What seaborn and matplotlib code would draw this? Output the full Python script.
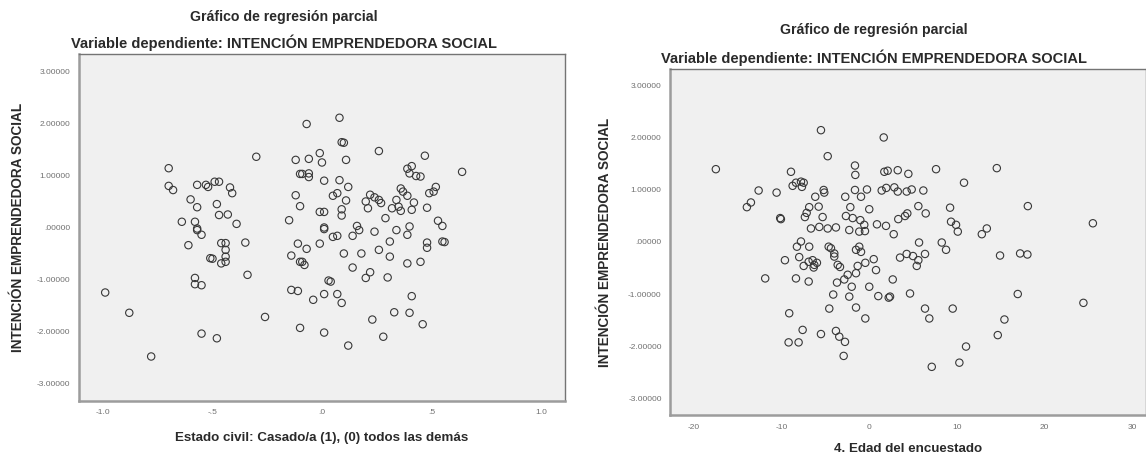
import numpy as np
import pandas as pd
import seaborn as sns
import matplotlib.pyplot as plt

# partial regression: estado civil
civil_x = [-0.30, -0.12, -0.70, -0.10, -0.70, -0.68, -0.57, -0.53, -0.52, -0.49,
           -0.47, -0.42, -0.41, -0.60, -0.57, -0.48, -0.12, -0.10, -0.47, -0.43,
           -0.15, -0.39, -0.64, -0.58, -0.57, -0.57, -0.55, -0.46, -0.44, -0.35,
           -0.61, -0.11, -0.44, -0.51, -0.50, -0.46, -0.44, -0.44, -0.14, -0.10,
           -0.58, -0.58, -0.55, -0.34, -0.99, -0.88, -0.14, -0.11, -0.26, -0.10,
           -0.55, -0.48, -0.78,
           -0.07, 0.08, 0.09, 0.10, 0.26, 0.47, -0.06, -0.01, 0.00, 0.11,
           0.64, 0.39, 0.41, 0.40, 0.43, 0.45, -0.09, -0.06, -0.06, 0.01,
           0.08, 0.12, 0.05, 0.07, 0.11, 0.36, 0.37, 0.39, 0.52, 0.51,
           0.49, 0.22, 0.24, 0.26, 0.27, 0.20, 0.21, 0.34, 0.35, 0.36,
           0.32, 0.42, 0.41, 0.48, -0.01, 0.01, 0.09, 0.09, 0.29, 0.53,
           0.55, 0.01, 0.01, 0.16, 0.17, 0.24, 0.34, 0.40, 0.39, 0.05,
           0.07, 0.14, -0.01, 0.31, 0.48, 0.55, -0.07, 0.10, 0.18, 0.26,
           0.31, 0.48, 0.56, -0.09, -0.08, 0.14, 0.39, 0.45, 0.22, 0.20,
           0.30, 0.03, 0.04, 0.01, -0.04, 0.07, 0.09, 0.41, 0.33, 0.40,
           0.23, 0.46, 0.01, 0.28, 0.12]
civil_y = [1.36, 1.30, 1.14, 1.03, 0.80, 0.72, 0.82, 0.82, 0.78, 0.88,
           0.88, 0.77, 0.66, 0.54, 0.39, 0.45, 0.62, 0.41, 0.24, 0.25,
           0.14, 0.07, 0.11, 0.11, -0.02, -0.05, -0.14, -0.30, -0.30, -0.29,
           -0.34, -0.31, -0.43, -0.59, -0.60, -0.69, -0.66, -0.56, -0.54, -0.66,
           -0.97, -1.09, -1.11, -0.91, -1.25, -1.64, -1.20, -1.22, -1.72, -1.93,
           -2.04, -2.13, -2.48,
           1.99, 2.11, 1.64, 1.63, 1.47, 1.38, 1.32, 1.43, 1.25, 1.30,
           1.07, 1.13, 1.18, 1.04, 0.99, 0.98, 1.03, 1.04, 0.97, 0.90,
           0.91, 0.78, 0.61, 0.66, 0.52, 0.75, 0.69, 0.61, 0.78, 0.69,
           0.66, 0.63, 0.58, 0.53, 0.47, 0.50, 0.37, 0.53, 0.40, 0.32,
           0.37, 0.48, 0.34, 0.38, 0.30, 0.30, 0.35, 0.23, 0.18, 0.13,
           0.03, 0.00, -0.03, 0.03, -0.05, -0.08, -0.05, 0.02, -0.14, -0.18,
           -0.16, -0.16, -0.31, -0.27, -0.29, -0.27, -0.41, -0.50, -0.50, -0.43,
           -0.56, -0.39, -0.28, -0.66, -0.72, -0.77, -0.69, -0.66, -0.86, -0.97,
           -0.96, -1.02, -1.04, -1.28, -1.39, -1.28, -1.45, -1.32, -1.63, -1.64,
           -1.77, -1.86, -2.02, -2.10, -2.27]

# partial regression: edad
edad_x = [-5.48, 1.68, -4.71, -17.47, -8.90, -1.60, -1.56, 1.75, 2.13, 3.28,
          -8.33, -7.76, -7.45, -8.71, -7.65, -12.59, -10.54, -5.17, -5.10, -6.13,
          -2.71, -1.60, -0.91, -0.23, 1.45, 1.97, 2.89, 3.28, -13.47, -13.93,
          -5.74, -6.82, -7.11, -7.31, -5.29, -2.13, -2.63, 0.03, -10.13, -10.05,
          -1.86, -0.99, -6.62, -5.67, -4.71, -3.77, -2.25, -1.11, -0.46, -0.54,
          0.91, 1.94, 2.82, 3.34, -7.76, -8.22, -6.82, -4.60, -4.34, -3.96,
          -1.11, -0.91, -1.48, 7.65, 14.58, 10.84, 4.49, 4.30, 4.87, 6.20,
          18.12, 9.25, 5.63, 6.47, 4.11, 4.37, 9.36, 9.93, 10.13, 12.87,
          13.44, 25.54, 5.71, 8.30, 8.79, 14.95, 17.24, 18.07, 3.54, 4.30,
          5.02, 5.63, 6.39, 5.45, 2.71, 2.40, 4.68, 6.39, 6.88, 9.55,
          16.97, 15.45, 14.69, 11.07, 10.31, 7.16, 24.46, -9.59, -11.84, -7.96,
          -7.45, -6.88, -6.43, -6.24, -6.31, -5.94, -8.33, -6.88, -3.96, -3.57,
          -3.31, -1.29, -0.42, 0.54, 0.80, -3.65, -2.82, -2.43, -1.48, -1.97,
          0.03, -4.08, -2.25, 1.06, 2.25, -4.53, -1.48, -0.42, -9.10, -7.57,
          -5.48, -3.77, -3.39, -2.74, -9.17, -8.03, -2.89]
edad_y = [2.15, 2.01, 1.65, 1.40, 1.35, 1.47, 1.29, 1.35, 1.37, 1.38,
          1.14, 1.16, 1.14, 1.08, 1.06, 0.99, 0.95, 1.00, 0.95, 0.87,
          0.87, 1.00, 0.87, 1.01, 0.99, 1.04, 1.05, 0.97, 0.76, 0.67,
          0.68, 0.67, 0.56, 0.48, 0.48, 0.67, 0.50, 0.63, 0.46, 0.44,
          0.46, 0.42, 0.26, 0.29, 0.26, 0.28, 0.23, 0.20, 0.21, 0.33,
          0.34, 0.31, 0.15, 0.44, 0.01, -0.09, -0.09, -0.09, -0.12, -0.22,
          -0.09, -0.19, -0.15, 1.40, 1.42, 1.14, 1.31, 0.97, 1.01, 0.99,
          0.69, 0.66, 0.69, 0.55, 0.50, 0.55, 0.39, 0.33, 0.20, 0.15,
          0.26, 0.36, -0.01, -0.01, -0.15, -0.26, -0.22, -0.24, -0.30, -0.23,
          -0.27, -0.35, -0.23, -0.46, -0.72, -1.05, -0.99, -1.28, -1.47, -1.28,
          -1.00, -1.49, -1.79, -2.01, -2.32, -2.40, -1.17, -0.35, -0.70, -0.29,
          -0.46, -0.38, -0.35, -0.44, -0.49, -0.40, -0.70, -0.76, -0.28, -0.44,
          -0.48, -0.46, -0.40, -0.33, -0.54, -0.78, -0.72, -0.63, -0.60, -0.86,
          -0.86, -1.01, -1.05, -1.04, -1.07, -1.28, -1.26, -1.47, -1.37, -1.69,
          -1.77, -1.71, -1.82, -1.92, -1.93, -1.93, -2.19]

y_ticks = [3, 2, 1, 0, -1, -2, -3]
y_tick_labels = ['3.00000', '2.00000', '1.00000', '.00000', '-1.00000', '-2.00000', '-3.00000']
civil_ticks = [-1.0, -0.5, 0.0, 0.5, 1.0]
civil_tick_labels = ['-1.0', '-.5', '.0', '.5', '1.0']
edad_ticks = [-20, -10, 0, 10, 20, 30]
edad_tick_labels = ['-20', '-10', '0', '10', '20', '30']

title_1 = 'Gráfico de regresión parcial'
title_2 = 'Variable dependiente: INTENCIÓN EMPRENDEDORA SOCIAL'
y_label = 'INTENCIÓN EMPRENDEDORA SOCIAL'

sns.set_style('white')
plt.rcParams['font.family'] = ['Liberation Sans', 'DejaVu Sans']

fig = plt.figure(figsize=(11.46, 4.58), dpi=100)
W, H = 1146, 458

def px_axes(left, top, right, bottom):
    return fig.add_axes([left / W, 1 - bottom / H, (right - left) / W, (bottom - top) / H])

def draw_panel(ax, x, y, xticks, xticklabels, xlim, xlabel, ylab_x, xlab_y):
    df = pd.DataFrame({'x': x, 'y': y})
    sns.scatterplot(data=df, x='x', y='y', ax=ax, s=28, marker='o',
                    facecolor='none', edgecolor='#383838', linewidth=0.8)
    ax.set_facecolor('#f0f0f0')
    ax.set_xlim(xlim)
    ax.set_ylim(-3.33, 3.33)
    ax.set_yticks(y_ticks)
    ax.set_yticklabels(y_tick_labels)
    ax.set_xticks(xticks)
    ax.set_xticklabels(xticklabels)
    ax.tick_params(axis='both', length=4, width=1, color='#8a8a8a',
                   labelsize=6, labelcolor='#707070', pad=2)
    for side in ['left', 'bottom']:
        ax.spines[side].set_color('#9c9c9c')
        ax.spines[side].set_linewidth(1.8)
    for side in ['top', 'right']:
        ax.spines[side].set_color('#747474')
        ax.spines[side].set_linewidth(1.0)
    ax.set_ylabel(y_label, fontsize=9.8, fontweight='bold', color='#2a2a2a')
    ax.yaxis.set_label_coords(ylab_x, 0.5)
    ax.set_xlabel(xlabel, fontsize=9.6, fontweight='bold', color='#2a2a2a')
    ax.xaxis.set_label_coords(0.5, xlab_y)

ax1 = px_axes(78.7, 54.3, 565, 400.7)
draw_panel(ax1, civil_x, civil_y, civil_ticks, civil_tick_labels, (-1.111, 1.11),
           'Estado civil: Casado/a (1), (0) todos las demás', -0.110, -0.090)

ax2 = px_axes(670, 68.8, 1146, 415.2)
draw_panel(ax2, edad_x, edad_y, edad_ticks, edad_tick_labels, (-22.7, 31.6),
           '4. Edad del encuestado', -0.122, -0.080)

for cx, y1, y2 in [(284, 16.7, 42.7), (874, 30, 58)]:
    fig.text(cx / W, 1 - y1 / H, title_1, ha='center', va='center',
             fontsize=10.2, fontweight='bold', color='#2a2a2a')
    fig.text(cx / W, 1 - y2 / H, title_2, ha='center', va='center',
             fontsize=10.5, fontweight='bold', color='#2a2a2a')

fig.savefig('out.png', dpi=100)
